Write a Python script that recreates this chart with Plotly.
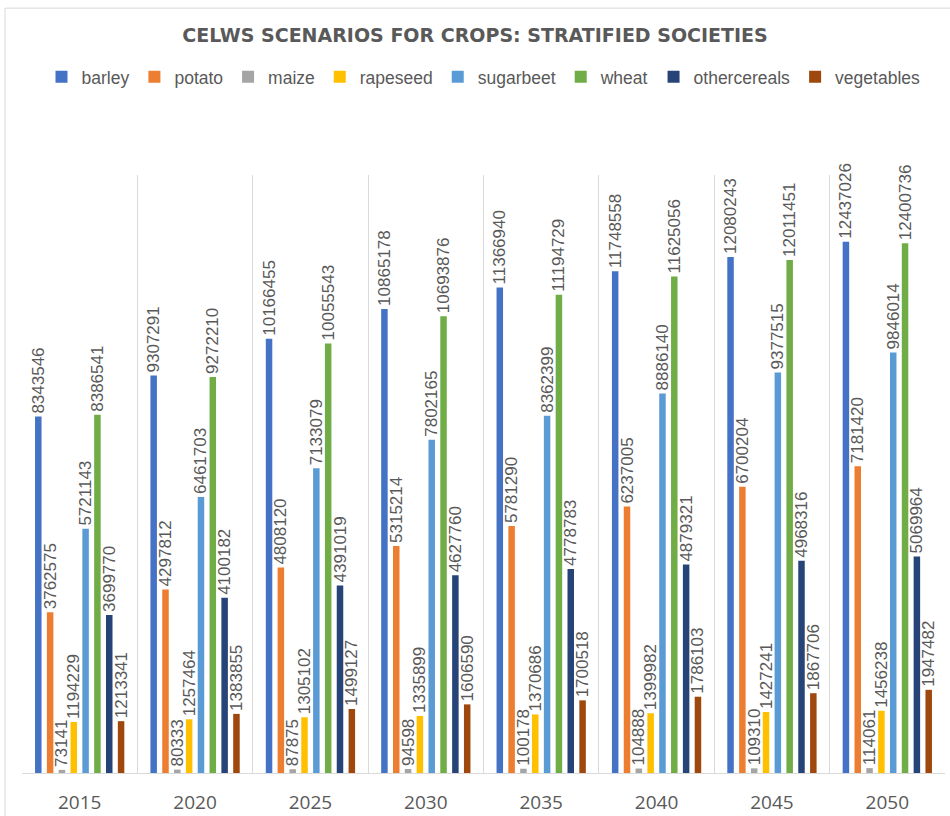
import plotly.graph_objects as go

years = ["2015", "2020", "2025", "2030", "2035", "2040", "2045", "2050"]
barley = [8343546, 9307291, 10166455, 10865178, 11366940, 11748558, 12080243, 12437026]
potato = [3762575, 4297812, 4808120, 5315214, 5781290, 6237005, 6700204, 7181420]
maize = [73141, 80333, 87875, 94598, 100178, 104888, 109310, 114061]
rapeseed = [1194229, 1257464, 1305102, 1335899, 1370686, 1399982, 1427241, 1456238]
sugarbeet = [5721143, 6461703, 7133079, 7802165, 8362399, 8886140, 9377515, 9846014]
wheat = [8386541, 9272210, 10055543, 10693876, 11194729, 11625056, 12011451, 12400736]
othercereals = [3699770, 4100182, 4391019, 4627760, 4778783, 4879321, 4968316, 5069964]
vegetables = [1213341, 1383855, 1499127, 1606590, 1700518, 1786103, 1867706, 1947482]

series = [
    ("barley", barley, "#4472C4"),
    ("potato", potato, "#ED7D31"),
    ("maize", maize, "#A5A5A5"),
    ("rapeseed", rapeseed, "#FFC000"),
    ("sugarbeet", sugarbeet, "#5B9BD5"),
    ("wheat", wheat, "#70AD47"),
    ("othercereals", othercereals, "#264478"),
    ("vegetables", vegetables, "#9E480E"),
]

FONT = "Liberation Sans"
GRAY = "#595959"

fig = go.Figure()
for name, vals, color in series:
    fig.add_trace(go.Bar(
        name=name, x=years, y=vals, marker=dict(color=color, line=dict(width=0)),
        text=[str(v) for v in vals], textposition="outside", textangle=-90,
        textfont=dict(family="Liberation Sans Narrow, Liberation Sans", size=17, color=GRAY),
        constraintext="none", cliponaxis=False,
    ))

fig.update_layout(
    width=950, height=816,
    margin=dict(l=22, r=5, t=175, b=43),
    paper_bgcolor="white", plot_bgcolor="white",
    barmode="group", bargap=0.18, bargroupgap=0.45,
    title=dict(text="CELWS SCENARIOS FOR CROPS: STRATIFIED SOCIETIES",
               x=0.5, xanchor="center", y=0.957, yanchor="middle",
               font=dict(family="DejaVu Sans", size=19, color=GRAY, weight=700)),
    legend=dict(orientation="h", x=0.5, xanchor="center", y=1.164, yanchor="middle",
                font=dict(family=FONT, size=17.5, color=GRAY), itemwidth=30,
                traceorder="normal"),
    xaxis=dict(showgrid=True, gridcolor="#d9d9d9", gridwidth=1, tickson="boundaries",
               showline=True, linecolor="#d9d9d9", linewidth=1, ticks="",
               ticklabelstandoff=12, automargin=False,
               tickfont=dict(family="Open Sans", size=19, color=GRAY)),
    yaxis=dict(range=[0, 14000000], visible=False, showgrid=False, zeroline=False,
               automargin=False),
    shapes=[dict(type="rect", xref="paper", yref="paper", x0=-0.0184, x1=1.02,
                 y0=-0.1, y1=1.279, line=dict(color="#d9d9d9", width=1),
                 fillcolor="rgba(0,0,0,0)", layer="below")],
)

fig.write_html("out.html")
